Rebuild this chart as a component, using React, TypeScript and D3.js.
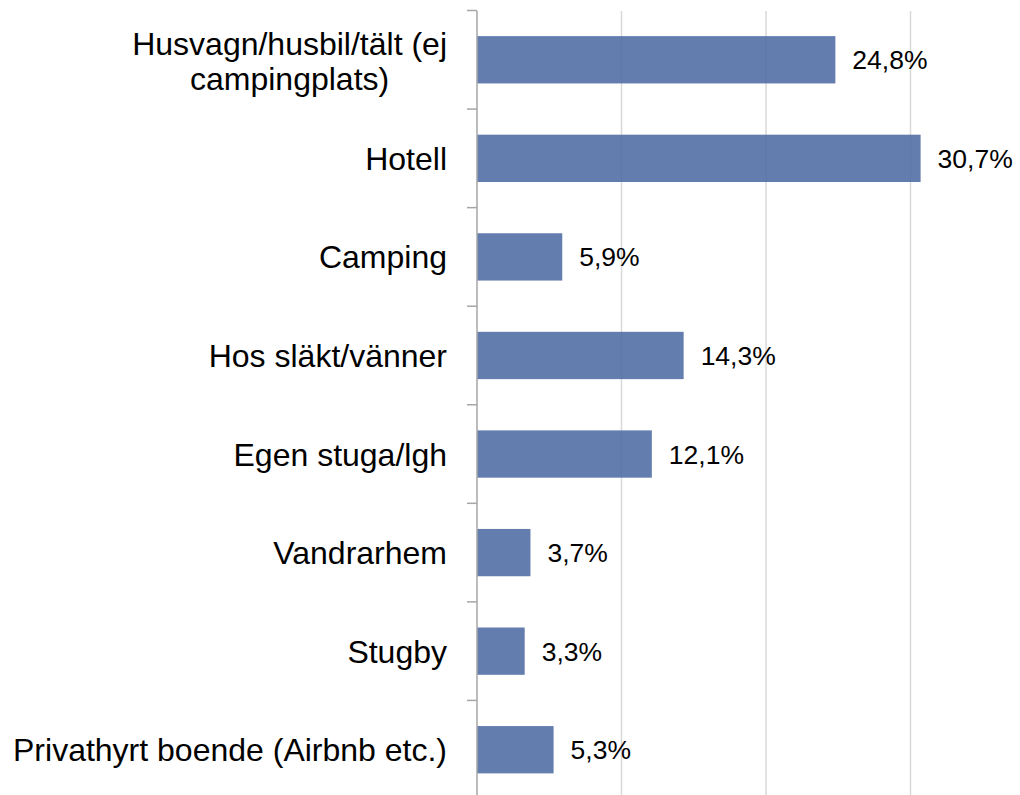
import React, { useLayoutEffect, useRef, useState } from "react";
import * as d3 from "d3";

const categories: string[][] = [
  ["Husvagn/husbil/tält (ej", "campingplats)"],
  ["Hotell"],
  ["Camping"],
  ["Hos släkt/vänner"],
  ["Egen stuga/lgh"],
  ["Vandrarhem"],
  ["Stugby"],
  ["Privathyrt boende (Airbnb etc.)"],
];
const values: number[] = [24.8, 30.7, 5.9, 14.3, 12.1, 3.7, 3.3, 5.3];
const valueLabels: string[] = ["24,8%", "30,7%", "5,9%", "14,3%", "12,1%", "3,7%", "3,3%", "5,3%"];
const gridTicks: number[] = [0, 10, 20, 30];

const W = 1020;
const H = 795;
const x0 = 477;
const FONT = "Arial, 'Liberation Sans', sans-serif";

export default function App() {
  const x = d3.scaleLinear().domain([0, 10]).range([x0, x0 + 144.5]);
  const keys = categories.map((_, i) => String(i));
  const y = d3.scaleBand().domain(keys).range([10.5, 799]).paddingInner(0.52).paddingOuter(0.26);
  const step = y.step();
  const start = 10.5;
  const boundaries = d3.range(categories.length + 1).map((i) => start + i * step);

  const line1Ref = useRef<SVGTextElement | null>(null);
  const [w1, setW1] = useState(312);
  useLayoutEffect(() => {
    if (line1Ref.current) setW1(line1Ref.current.getComputedTextLength());
  }, []);

  const labelRight = 447;
  const catSize = 32;

  return (
    <svg width={W} height={H} style={{ position: "absolute", left: 0, top: 0, background: "#fff" }}>
      {gridTicks.slice(1).map((t) => (
        <line key={t} x1={x(t)} x2={x(t)} y1={11} y2={H} stroke="#d9d9d9" strokeWidth={1.5} />
      ))}
      {values.map((v, i) => (
        <rect
          key={i}
          x={x(0)}
          y={y(String(i))!}
          width={x(v) - x(0)}
          height={y.bandwidth()}
          fill="#4e6ba4"
          fillOpacity={0.88}
        />
      ))}
      <line x1={x0} x2={x0} y1={11} y2={H} stroke="#a6a6a6" strokeWidth={1.5} />
      {boundaries.map((b, i) => (
        <line key={i} x1={x0 - 10} x2={x0} y1={b} y2={b} stroke="#a6a6a6" strokeWidth={1.5} />
      ))}
      {categories.map((lines, i) => {
        const cy = y(String(i))! + y.bandwidth() / 2;
        if (lines.length === 1) {
          return (
            <text key={i} x={labelRight} y={cy} dy="0.36em" textAnchor="end" fontFamily={FONT} fontSize={catSize} fill="#000">
              {lines[0]}
            </text>
          );
        }
        const cx = labelRight - w1 / 2;
        return (
          <g key={i}>
            <text ref={line1Ref} x={labelRight} y={cy - 16.5} dy="0.36em" textAnchor="end" fontFamily={FONT} fontSize={catSize} fill="#000">
              {lines[0]}
            </text>
            <text x={cx} y={cy + 18.5} dy="0.36em" textAnchor="middle" fontFamily={FONT} fontSize={catSize} fill="#000">
              {lines[1]}
            </text>
          </g>
        );
      })}
      {values.map((v, i) => (
        <text
          key={i}
          x={x(v) + 17}
          y={y(String(i))! + y.bandwidth() / 2}
          dy="0.36em"
          fontFamily={FONT}
          fontSize={26.5}
          fill="#000"
        >
          {valueLabels[i]}
        </text>
      ))}
    </svg>
  );
}
